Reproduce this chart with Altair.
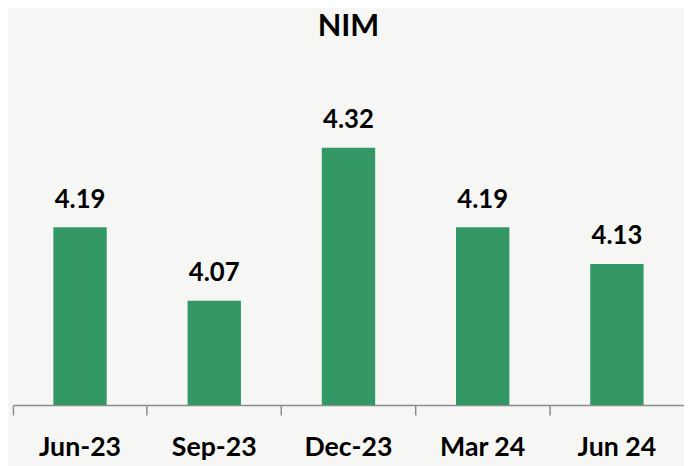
import altair as alt
import pandas as pd

periods = ["Jun-23", "Sep-23", "Dec-23", "Mar 24", "Jun 24"]
nim = [4.19, 4.07, 4.32, 4.19, 4.13]

df = pd.DataFrame({"period": periods, "nim": nim})

x = alt.X("period:N", sort=periods, title=None,
          scale=alt.Scale(paddingInner=0, paddingOuter=0),
          axis=alt.Axis(labelAngle=0, labelFont="Lato", labelFontWeight="bold",
                        labelFontSize=27, labelColor="#000000", labelPadding=20,
                        tickSize=10, tickColor="#8c8c8c", tickWidth=1.5,
                        domainColor="#8c8c8c", domainWidth=1.5,
                        bandPosition=0, grid=False))
y = alt.Y("nim:Q", title=None, scale=alt.Scale(domain=[3.9, 4.4], zero=False, nice=False),
          axis=None)

bars = alt.Chart(df).mark_bar(color="#349866", size=54, clip=True).encode(x=x, y=y)
labels = alt.Chart(df).mark_text(font="Lato", fontWeight="bold", fontSize=26,
                                 color="#000000", baseline="alphabetic", dy=-20).encode(
    x=x, y=y, text=alt.Text("nim:Q", format=".2f"))

chart = (bars + labels).properties(
    width=679, height=310,
    title=alt.TitleParams("NIM", font="Lato", fontSize=31, fontWeight="bold",
                          color="#000000", anchor="middle", baseline="alphabetic", offset=32),
    background="#f6f6f4",
    padding={"left": 5, "top": 89, "right": 0, "bottom": 60},
    autosize=alt.AutoSizeParams(type="none"),
).configure_view(stroke=None)

chart.save("out.html", embed_options={"renderer": "svg", "actions": False})
